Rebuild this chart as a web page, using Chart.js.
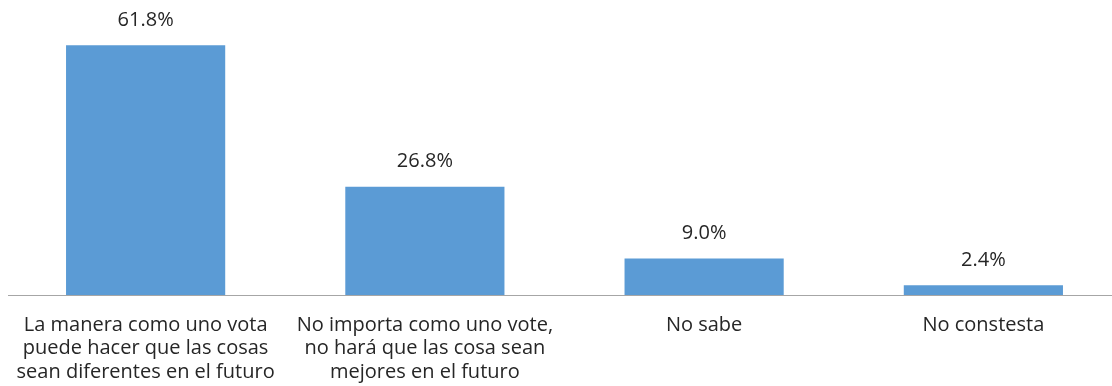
<!DOCTYPE html>
<html>
<head>
<meta charset="utf-8">
<script src="https://cdn.jsdelivr.net/npm/chart.js@4"></script>
<style>
    html, body { margin: 0; padding: 0; background: #fff; overflow: hidden; }
    #wrap { position: absolute; left: 0; top: 0; width: 1123px; height: 386px; }
</style>
</head>
<body>
<div id="wrap"><canvas id="barChart"></canvas></div>
<script>
var categories = [
    ['La manera como uno vota', 'puede hacer que las cosas', 'sean diferentes en el futuro'],
    ['No importa como uno vote,', 'no hará que las cosa sean', 'mejores en el futuro'],
    'No sabe',
    'No constesta'
];
var values = [61.8, 26.8, 9.0, 2.4];
var yMax = 70;

var fontFamily = '"Open Sans", Lato, sans-serif';
var textColor = '#262626';

// percent labels above each bar + the baseline
var barLabels = {
    id: 'barLabels',
    afterDatasetsDraw: function (chart) {
        var ctx = chart.ctx;
        var area = chart.chartArea;
        ctx.save();
        ctx.strokeStyle = '#a6a6a6';
        ctx.lineWidth = 1;
        ctx.beginPath();
        ctx.moveTo(8, Math.round(area.bottom) + 0.5);
        ctx.lineTo(1112, Math.round(area.bottom) + 0.5);
        ctx.stroke();

        ctx.fillStyle = textColor;
        ctx.font = '20px ' + fontFamily;
        ctx.textAlign = 'center';
        ctx.textBaseline = 'middle';
        var meta = chart.getDatasetMeta(0);
        for (var i = 0; i < meta.data.length; i++) {
            var bar = meta.data[i];
            ctx.fillText(values[i].toFixed(1) + '%', bar.x, bar.y - 25);
        }
        ctx.restore();
    }
};

new Chart(document.getElementById('barChart').getContext('2d'), {
    type: 'bar',
    data: {
        labels: categories,
        datasets: [{
            data: values,
            backgroundColor: '#5b9bd5',
            borderWidth: 0,
            barPercentage: 0.57,
            categoryPercentage: 1
        }]
    },
    options: {
        responsive: true,
        maintainAspectRatio: false,
        animation: false,
        layout: { padding: { left: 6, right: 0, top: 12, bottom: 0 } },
        scales: {
            x: {
                grid: { display: false, drawTicks: false },
                border: { display: false },
                afterFit: function (scale) {
                    scale.height = 91;
                    scale.paddingLeft = 0;
                    scale.paddingRight = 0;
                },
                ticks: {
                    color: textColor,
                    padding: 18,
                    maxRotation: 0,
                    autoSkip: false,
                    font: { family: fontFamily, size: 20, lineHeight: 1.18 }
                }
            },
            y: {
                display: false,
                min: 0,
                max: yMax
            }
        },
        plugins: {
            legend: { display: false },
            tooltip: { enabled: false }
        }
    },
    plugins: [barLabels]
});
</script>
</body>
</html>
